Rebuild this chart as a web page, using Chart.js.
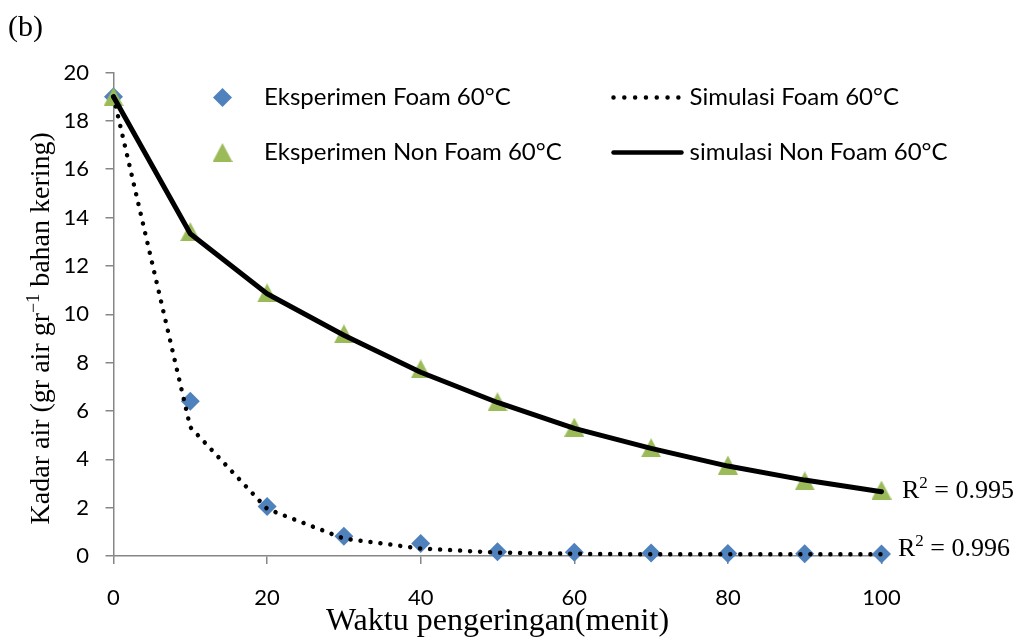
<!DOCTYPE html>
<html>
<head>
<meta charset="utf-8">
<script src="https://cdn.jsdelivr.net/npm/chart.js@4.4.1/dist/chart.umd.min.js"></script>
<style>
  html, body { margin: 0; padding: 0; background: #ffffff; }
  #wrap { width: 1019px; height: 641px; position: relative; }
</style>
</head>
<body>
<div id="wrap"><canvas id="chart" width="1019" height="641"></canvas></div>
<script>
// Drying time (minutes)
const minutes = [0, 10, 20, 30, 40, 50, 60, 70, 80, 90, 100];

// Moisture content, experiment (gr water / gr dry matter)
const foamExp    = [19.0, 6.4, 2.05, 0.82, 0.52, 0.18, 0.16, 0.12, 0.10, 0.09, 0.08];
const nonFoamExp = [19.0, 13.42, 10.88, 9.19, 7.74, 6.38, 5.33, 4.48, 3.76, 3.11, 2.73];

// Moisture content, model simulation
const foamSim    = [19.0, 5.33, 1.95, 0.72, 0.31, 0.14, 0.09, 0.07, 0.07, 0.07, 0.07];
const nonFoamSim = [19.0, 13.33, 10.85, 9.13, 7.6, 6.35, 5.28, 4.45, 3.72, 3.14, 2.66];

// Axis ticks
const xTicks = [0, 20, 40, 60, 80, 100];
const yTicks = [0, 2, 4, 6, 8, 10, 12, 14, 16, 18, 20];

// Series names and fit quality
const seriesNames = {
  foamExp: 'Eksperimen Foam 60°C',
  nonFoamExp: 'Eksperimen Non Foam 60°C',
  foamSim: 'Simulasi Foam 60°C',
  nonFoamSim: 'simulasi Non Foam 60°C'
};
const r2NonFoam = '0.995';
const r2Foam = '0.996';

const BLUE = '#4F81BD';
const GREEN = '#9BBB59';
const AXIS = '#868686';
const SANS = 'Lato, "Open Sans", sans-serif';
const SERIF = '"Liberation Serif", "Times New Roman", serif';

const toXY = vals => vals.map((v, i) => ({ x: minutes[i], y: v }));

// Upright triangle marker (bounding box centred on the point)
function makeTriangle(w, h, color) {
  const c = document.createElement('canvas');
  c.width = w; c.height = h;
  const g = c.getContext('2d');
  g.fillStyle = color;
  g.beginPath();
  g.moveTo(w / 2, 0);
  g.lineTo(w, h);
  g.lineTo(0, h);
  g.closePath();
  g.fill();
  return c;
}
const triangleMark = makeTriangle(20, 19, GREEN);

function drawDots(ctx, x0, x1, y) {
  ctx.save();
  ctx.strokeStyle = '#000';
  ctx.lineWidth = 4.5;
  ctx.lineCap = 'round';
  ctx.setLineDash([0.01, 10.8]);
  ctx.beginPath();
  ctx.moveTo(x0, y);
  ctx.lineTo(x1, y);
  ctx.stroke();
  ctx.restore();
}

const decorations = {
  id: 'decorations',
  afterDraw(chart) {
    const { ctx, chartArea, scales: { x, y } } = chart;
    ctx.save();
    ctx.fillStyle = '#000';

    // panel tag
    ctx.font = '30px ' + SERIF;
    ctx.textBaseline = 'alphabetic';
    ctx.textAlign = 'left';
    ctx.fillText('(b)', 8, 36);

    // vertical axis title with superscript
    const t1 = 'Kadar air (gr air gr', t2 = '\u22121', t3 = ' bahan kering)';
    ctx.font = '28px ' + SERIF;
    const w1 = ctx.measureText(t1).width, w3 = ctx.measureText(t3).width;
    ctx.font = '18px ' + SERIF;
    const w2 = ctx.measureText(t2).width;
    const total = w1 + w2 + w3;
    const cy = (chartArea.top + chartArea.bottom) / 2 + 14;
    ctx.save();
    ctx.translate(48.5, cy);
    ctx.rotate(-Math.PI / 2);
    let px = -total / 2;
    ctx.font = '28px ' + SERIF;
    ctx.fillText(t1, px, 0); px += w1;
    ctx.font = '18px ' + SERIF;
    ctx.fillText(t2, px, -10); px += w2;
    ctx.font = '28px ' + SERIF;
    ctx.fillText(t3, px, 0);
    ctx.restore();

    // legend
    const row1 = chartArea.top + 25, row2 = chartArea.top + 80;
    const mX = chartArea.left + 109;
    const tX = chartArea.left + 150.5;
    const lX0 = chartArea.left + 500, lX1 = chartArea.left + 567;
    const t2X = chartArea.left + 576;
    // diamond
    ctx.fillStyle = BLUE;
    ctx.beginPath();
    ctx.moveTo(mX - 9.5, row1); ctx.lineTo(mX, row1 - 9.5);
    ctx.lineTo(mX + 9.5, row1); ctx.lineTo(mX, row1 + 9.5);
    ctx.closePath(); ctx.fill();
    // triangle
    ctx.drawImage(triangleMark, mX - triangleMark.width / 2, row2 - triangleMark.height / 2);
    // dotted / solid lines
    drawDots(ctx, lX0, lX1, row1);
    ctx.strokeStyle = '#000';
    ctx.lineWidth = 4.5;
    ctx.lineCap = 'round';
    ctx.beginPath(); ctx.moveTo(lX0, row2); ctx.lineTo(lX1 + 1, row2); ctx.stroke();
    // labels
    ctx.fillStyle = '#000';
    ctx.font = '24px ' + SANS;
    ctx.textBaseline = 'middle';
    ctx.fillText(seriesNames.foamExp, tX, row1);
    ctx.fillText(seriesNames.nonFoamExp, tX, row2);
    ctx.fillText(seriesNames.foamSim, t2X, row1);
    ctx.fillText(seriesNames.nonFoamSim, t2X, row2);

    // coefficient of determination labels
    const last = minutes.length - 1;
    const xEnd = x.getPixelForValue(minutes[last]);
    const drawR2 = (value, lx, ly) => {
      ctx.textBaseline = 'alphabetic';
      ctx.font = '26px ' + SERIF;
      ctx.fillText('R', lx, ly);
      let p = lx + ctx.measureText('R').width;
      ctx.font = '17px ' + SERIF;
      ctx.fillText('2', p, ly - 10);
      p += ctx.measureText('2').width;
      ctx.font = '26px ' + SERIF;
      ctx.fillText(' = ' + value, p, ly);
    };
    drawR2(r2NonFoam, xEnd + 20.5, y.getPixelForValue(nonFoamExp[last]) + 8);
    drawR2(r2Foam, xEnd + 16.5, y.getPixelForValue(foamExp[last]) + 2);

    ctx.restore();
  }
};

new Chart(document.getElementById('chart'), {
  type: 'scatter',
  data: {
    datasets: [
      {
        label: seriesNames.foamSim,
        data: toXY(foamSim),
        showLine: true,
        borderColor: '#000',
        borderWidth: 4.5,
        borderDash: [0.01, 10],
        borderCapStyle: 'round',
        pointRadius: 0,
        tension: 0,
        order: 0,
        clip: false
      },
      {
        label: seriesNames.nonFoamSim,
        data: toXY(nonFoamSim),
        showLine: true,
        borderColor: '#000',
        borderWidth: 5,
        borderJoinStyle: 'round',
        borderCapStyle: 'round',
        pointRadius: 0,
        tension: 0,
        order: 0,
        clip: false
      },
      {
        label: seriesNames.foamExp,
        data: toXY(foamExp),
        showLine: false,
        pointStyle: 'rectRot',
        pointRadius: 9.5,
        pointBackgroundColor: BLUE,
        pointBorderWidth: 0,
        order: 2,
        clip: false
      },
      {
        label: seriesNames.nonFoamExp,
        data: toXY(nonFoamExp),
        showLine: false,
        pointStyle: triangleMark,
        pointRadius: 10,
        pointBackgroundColor: GREEN,
        pointBorderWidth: 0,
        order: 1,
        clip: false
      }
    ]
  },
  options: {
    responsive: false,
    devicePixelRatio: 1,
    animation: false,
    events: [],
    layout: { padding: { left: 0, right: 137.5, top: 72.5, bottom: 0 } },
    plugins: {
      legend: { display: false },
      tooltip: { enabled: false },
      title: { display: false }
    },
    scales: {
      x: {
        type: 'linear',
        min: 0,
        max: 100,
        afterBuildTicks: s => { s.ticks = xTicks.map(v => ({ value: v })); },
        afterFit: s => { s.height = 85; },
        grid: { drawOnChartArea: false, drawTicks: true, tickLength: 8, color: AXIS, lineWidth: 1.5 },
        border: { color: AXIS, width: 1.5 },
        ticks: { font: { family: SANS, size: 22 }, color: '#000', padding: 21, maxRotation: 0, autoSkip: false },
        title: {
          display: true,
          text: 'Waktu pengeringan(menit)',
          font: { family: SERIF, size: 32, lineHeight: 1.2 },
          color: '#000',
          padding: { top: 0, bottom: 0 }
        }
      },
      y: {
        type: 'linear',
        min: 0,
        max: 20,
        afterBuildTicks: s => { s.ticks = yTicks.map(v => ({ value: v })); },
        afterFit: s => { s.width = 113.5; },
        grid: { drawOnChartArea: false, drawTicks: true, tickLength: 8, color: AXIS, lineWidth: 1.5 },
        border: { color: AXIS, width: 1.5 },
        ticks: { font: { family: SANS, size: 22 }, color: '#000', padding: 16.5, autoSkip: false }
      }
    }
  },
  plugins: [decorations]
});
</script>
</body>
</html>
